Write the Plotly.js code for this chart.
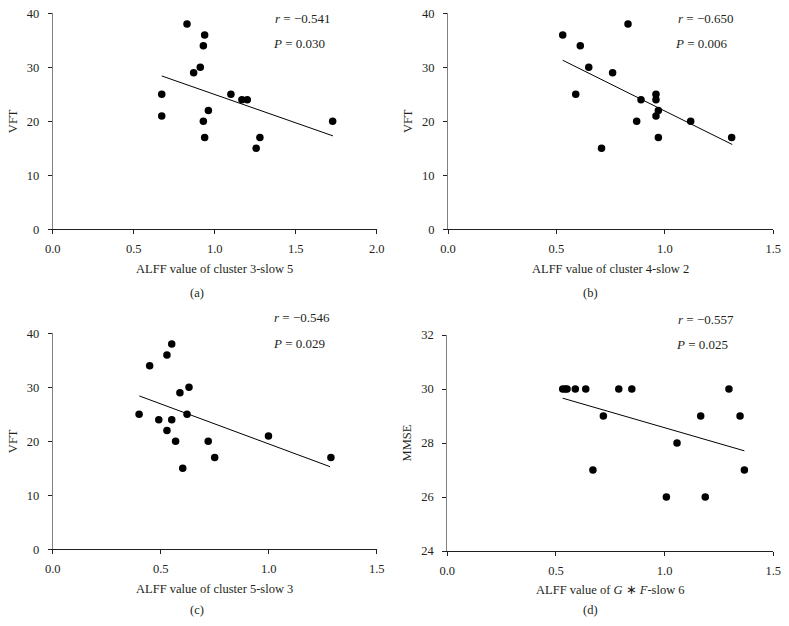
<!DOCTYPE html>
<html><head><meta charset="utf-8">
<script src="https://cdn.plot.ly/plotly-3.0.1.min.js"></script>
<style>html,body{margin:0;padding:0;background:#fff}</style>
</head><body><div id="chart" style="width:789px;height:626px"></div>
<script>
// Panel (a)
const aX = [0.829,0.938,0.930,0.911,0.870,0.673,0.673,0.961,0.930,0.938,1.100,1.168,1.201,1.256,1.279,1.728];
const aY = [38,36,34,30,29,25,21,22,20,17,25,24,24,15,17,20];
const aFitX = [0.673,1.730];
const aFitY = [28.4,17.3];
// Panel (b)
const bX = [0.529,0.610,0.649,0.759,0.589,0.830,0.890,0.959,0.959,0.970,0.959,0.870,0.970,0.708,1.119,1.308];
const bY = [36,34,30,29,25,38,24,25,24,22,21,20,17,15,20,17];
const bFitX = [0.529,1.311];
const bFitY = [31.3,15.7];
// Panel (c)
const cX = [0.400,0.449,0.491,0.529,0.529,0.551,0.551,0.569,0.589,0.602,0.622,0.631,0.720,0.750,0.999,1.288];
const cY = [25,34,24,36,22,38,24,20,29,15,25,30,20,17,21,17];
const cFitX = [0.401,1.284];
const cFitY = [28.4,15.3];
// Panel (d)
const dX = [0.531,0.543,0.551,0.589,0.637,0.789,0.849,1.296,0.718,1.166,1.347,1.057,0.670,1.367,1.008,1.187];
const dY = [30,30,30,30,30,30,30,30,29,29,29,28,27,27,26,26];
const dFitX = [0.531,1.367];
const dFitY = [29.66,27.71];

const xTitles = ["ALFF value of cluster 3-slow 5","ALFF value of cluster 4-slow 2","ALFF value of cluster 5-slow 3","ALFF value of <i>G</i> ∗ <i>F</i>-slow 6"];
const yTitles = ["VFT","VFT","VFT","MMSE"];
const rTexts = ["<i>r</i> = −0.541","<i>r</i> = −0.650","<i>r</i> = −0.546","<i>r</i> = −0.557"];
const pTexts = ["<i>P</i> = 0.030","<i>P</i> = 0.006","<i>P</i> = 0.029","<i>P</i> = 0.025"];
const panelLabels = ["(a)","(b)","(c)","(d)"];

const FONT = "Liberation Serif, Times New Roman, serif";
const TXT = "#231f20";
const traces = [];
const sets = [[aX,aY,aFitX,aFitY],[bX,bY,bFitX,bFitY],[cX,cY,cFitX,cFitY],[dX,dY,dFitX,dFitY]];
sets.forEach((s,i)=>{
  const xa = i===0 ? 'x' : 'x'+(i+1);
  const ya = i===0 ? 'y' : 'y'+(i+1);
  traces.push({type:'scatter',mode:'markers',x:s[0],y:s[1],xaxis:xa,yaxis:ya,
    marker:{color:'#000',size:7.5},cliponaxis:false,showlegend:false,hoverinfo:'x+y'});
  traces.push({type:'scatter',mode:'lines',x:s[2],y:s[3],xaxis:xa,yaxis:ya,
    line:{color:'#000',width:1},showlegend:false,hoverinfo:'skip'});
});

function xAxis(domain, range, title, anchor){
  return {domain:domain, range:range, anchor:anchor, dtick:0.5, tick0:0, tickformat:'.1f',
    showgrid:false, zeroline:false, showline:true, linecolor:'#231f20', linewidth:1,
    ticks:'outside', ticklen:4, tickcolor:'#231f20', tickwidth:1, ticklabelstandoff:4,
    tickfont:{family:FONT,size:12.5,color:TXT},
    title:{text:title, font:{family:FONT,size:12.5,color:TXT}, standoff:8}};
}
function yAxis(domain, range, dtick, title, anchor){
  return {domain:domain, range:range, anchor:anchor, dtick:dtick, tick0:range[0],
    showgrid:false, zeroline:false, showline:true, linecolor:'#808080', linewidth:1,
    ticks:'outside', ticklen:4, tickcolor:'#231f20', tickwidth:1, ticklabelstandoff:6,
    tickfont:{family:FONT,size:12.5,color:TXT},
    title:{text:title, font:{family:FONT,size:12.5,color:TXT}, standoff:6}};
}

const W=789,H=626;
const px = v=>v/W, py = v=>1-v/H;
const layout = {
  width:W, height:H, margin:{l:0,r:0,t:0,b:0}, paper_bgcolor:'#fff', plot_bgcolor:'#fff',
  showlegend:false,
  xaxis: xAxis([px(52.7),px(376.7)],[0,2],xTitles[0],'y'),
  yaxis: yAxis([py(229.3),py(13.3)],[0,40],10,yTitles[0],'x'),
  xaxis2: xAxis([px(448),px(773.3)],[0,1.5],xTitles[1],'y2'),
  yaxis2: yAxis([py(229.3),py(13.3)],[0,40],10,yTitles[1],'x2'),
  xaxis3: xAxis([px(52.7),px(376.7)],[0,1.5],xTitles[2],'y3'),
  yaxis3: yAxis([py(549.3),py(333.3)],[0,40],10,yTitles[2],'x3'),
  xaxis4: xAxis([px(447.3),px(773.3)],[0,1.5],xTitles[3],'y4'),
  yaxis4: yAxis([py(551),py(335)],[24,32],2,yTitles[3],'x4'),
  annotations: []
};
const rPos = [[0.680,0.974],[0.700,0.974],[0.677,1.071],[0.701,1.074]];
const pPos = [[0.674,0.858],[0.693,0.858],[0.673,0.954],[0.695,0.958]];
const lblPos = [[197,292.7],[590.7,292.7],[197,610],[590.7,610]];
for(let i=0;i<4;i++){
  const xr = (i===0?'x':'x'+(i+1))+' domain', yr=(i===0?'y':'y'+(i+1))+' domain';
  layout.annotations.push({text:rTexts[i],xref:xr,yref:yr,x:rPos[i][0],y:rPos[i][1],xanchor:'left',yanchor:'middle',showarrow:false,font:{family:FONT,size:13,color:TXT}});
  layout.annotations.push({text:pTexts[i],xref:xr,yref:yr,x:pPos[i][0],y:pPos[i][1],xanchor:'left',yanchor:'middle',showarrow:false,font:{family:FONT,size:13,color:TXT}});
  layout.annotations.push({text:panelLabels[i],xref:'paper',yref:'paper',x:px(lblPos[i][0]),y:py(lblPos[i][1]),xanchor:'center',yanchor:'middle',showarrow:false,font:{family:FONT,size:12.5,color:TXT}});
}
Plotly.newPlot('chart',traces,layout,{displayModeBar:false,staticPlot:false});
</script>
</body></html>
